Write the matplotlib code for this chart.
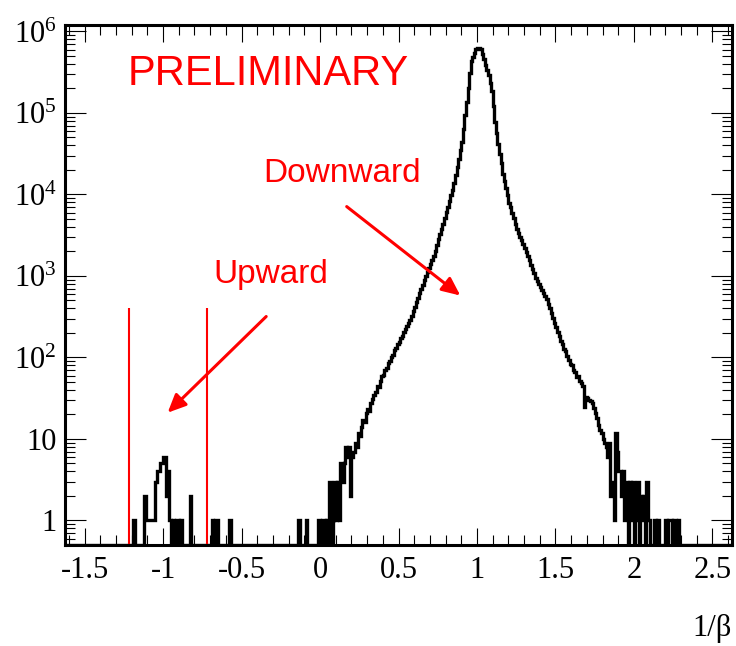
import numpy as np
import matplotlib.pyplot as plt
from matplotlib.ticker import MultipleLocator, FixedLocator, LogLocator, FuncFormatter, NullFormatter

plt.rcParams['font.family'] = ['Liberation Serif', 'DejaVu Serif']
plt.rcParams['mathtext.fontset'] = 'custom'
plt.rcParams['mathtext.rm'] = 'Liberation Serif'
plt.rcParams['mathtext.it'] = 'Liberation Serif:italic'

# 1/beta histogram, bins of width 0.01
x_lo, x_hi, bin_w = -1.63, 2.63, 0.01

# upward-going candidates, first bin starts at -1.20
upward_start = -1.20
upward_counts = [
    0, 1, 0, 0, 0, 0, 0, 0, 2, 1,
    1, 1, 1, 1, 1, 3, 4, 4, 5, 5,
    6, 6, 2, 4, 1, 0, 1, 0, 1, 1,
    0, 1, 0, 0, 0, 0, 0, 2, 0, 0,
    0, 0, 0, 0, 0, 0, 0, 0, 0, 0,
    0, 1, 0, 1, 1, 0, 0, 0, 0, 0,
    0, 0, 1,
]

# downward-going muons, first bin starts at -0.15
downward_start = -0.15
downward_counts = [
    0, 1, 0, 0, 0, 0, 1, 0, 0, 0,
    0, 0, 0, 0, 1, 0, 1, 1, 0, 1,
    0, 3, 0, 1, 3, 1, 3, 1, 5, 3,
    5, 8, 6, 8, 2, 6, 7, 9, 8, 12,
    11, 14, 17, 16, 21, 23, 22, 28, 31, 35,
    38, 45, 44, 52, 60, 61, 70, 75, 85, 90,
    101, 108, 122, 130, 147, 155, 172, 184, 206, 221,
    240, 263, 288, 324, 372, 417, 479, 537, 617, 692,
    776, 891, 1000, 1122, 1259, 1413, 1585, 1778, 2042, 2399,
    2818, 3236, 3802, 4365, 5129, 6026, 7079, 8318, 9772, 11482,
    13804, 17378, 21878, 27542, 34674, 43652, 63096, 93325, 134896, 204174,
    309030, 436516, 489779, 549541, 602560, 631200, 629800, 602560, 524807, 457088,
    389045, 338844, 295121, 234423, 186209, 120226, 77625, 56234, 41687, 31623,
    23988, 17783, 14454, 12023, 9772, 7943, 6918, 5888, 5129, 4365,
    3802, 3388, 3020, 2754, 2455, 2188, 1995, 1738, 1549, 1380,
    1202, 1072, 955, 871, 794, 741, 676, 617, 575, 525,
    457, 401, 351, 305, 266, 236, 206, 184, 160, 147,
    127, 119, 103, 93, 83, 80, 70, 67, 58, 60,
    52, 49, 45, 25, 33, 32, 30, 29, 28, 24,
    21, 18, 15, 13, 12, 10, 9, 8, 6, 9,
    2, 3, 1, 12, 7, 4, 4, 2, 4, 1,
    3, 0, 3, 1, 3, 0, 1, 3, 0, 2,
    1, 2, 0, 3, 1, 0, 0, 0, 1, 0,
    1, 0, 0, 0, 0, 1, 0, 1, 1, 0,
    1, 1, 0, 1,
]

# selection window for upward candidates
cut_lo, cut_hi = -1.22, -0.72
cut_height = 400

n_bins = int(round((x_hi - x_lo) / bin_w))
edges = np.round(x_lo + bin_w * np.arange(n_bins + 1), 3)
counts = np.zeros(n_bins)
for start, vals in ((upward_start, upward_counts), (downward_start, downward_counts)):
    i0 = int(round((start - x_lo) / bin_w))
    counts[i0:i0 + len(vals)] = vals

y_min, y_max = 0.5, 1.2e6

fig = plt.figure(figsize=(7.36, 6.46), dpi=100)
ax = fig.add_axes([65 / 736, 101 / 646, 667 / 736, 520 / 646])

# empty bins drawn along the axis floor, like ROOT does
ax.stairs(np.where(counts > 0, counts, y_min), edges, color='black', lw=2.4,
          baseline=None)

ax.vlines([cut_lo, cut_hi], y_min, cut_height, color='red', lw=1.5)

ax.set_yscale('log')
ax.set_xlim(-1.625, 2.625)
ax.set_ylim(y_min, y_max)

ax.xaxis.set_major_locator(MultipleLocator(0.5))
ax.xaxis.set_minor_locator(MultipleLocator(0.1))
ax.xaxis.set_major_formatter(FuncFormatter(lambda v, p: '%g' % round(v, 3)))

dec = [1, 10, 1e2, 1e3, 1e4, 1e5, 1e6]
dec_labels = ['1', '10', '$10^{2}$', '$10^{3}$', '$10^{4}$', '$10^{5}$', '$10^{6}$']
ax.yaxis.set_major_locator(FixedLocator(dec))
ax.yaxis.set_major_formatter(FuncFormatter(lambda v, p: dec_labels[dec.index(v)] if v in dec else ''))
ax.yaxis.set_minor_locator(LogLocator(base=10, subs=np.arange(2, 10), numticks=20))
ax.yaxis.set_minor_formatter(NullFormatter())

ax.tick_params(axis='both', which='both', direction='in', top=True, right=True,
               width=0.8, colors='black')
ax.tick_params(axis='x', which='major', length=12, labelsize=22, pad=8)
ax.tick_params(axis='x', which='minor', length=7)
ax.tick_params(axis='y', which='major', length=15, labelsize=22, pad=6)
ax.tick_params(axis='y', which='minor', length=7)
for s in ax.spines.values():
    s.set_linewidth(2.2)

red_font = dict(color='red', family='Liberation Sans', transform=ax.transAxes,
                ha='left', va='baseline')
ax.text(0.0945, 0.8846, 'PRELIMINARY', fontsize=30, **red_font)
ax.text(0.2969, 0.698, 'Downward', fontsize=24, **red_font)
ax.text(0.2219, 0.5038, 'Upward', fontsize=24, **red_font)

arrow = dict(arrowstyle='-|>,head_length=0.55,head_width=0.25', color='red',
             lw=2.2, shrinkA=0, shrinkB=0, mutation_scale=20)
ax.annotate('', xy=(0.894, 575), xytext=(0.17, 7100), arrowprops=arrow)
ax.annotate('', xy=(-0.971, 21), xytext=(-0.343, 318), arrowprops=arrow)

fig.text(732 / 736, 10 / 646, '1/β', ha='right', va='baseline', fontsize=22)

fig.savefig('out.png', dpi=100)
